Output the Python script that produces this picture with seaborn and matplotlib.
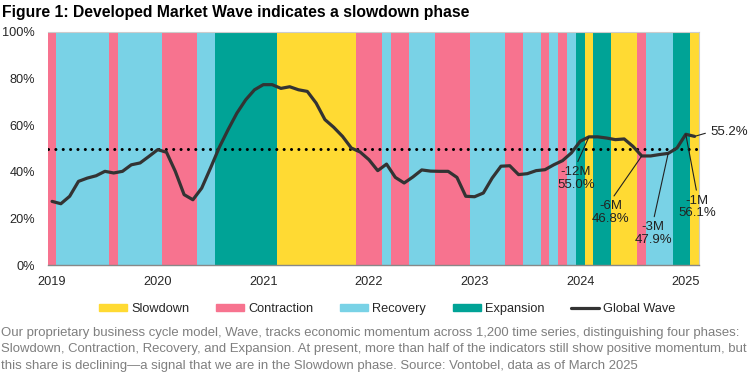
import matplotlib
matplotlib.use("Agg")
import matplotlib.pyplot as plt
from matplotlib.patches import Patch
from matplotlib.lines import Line2D
import seaborn as sns
import numpy as np
import pandas as pd

# monthly data, Jan 2019 .. Feb 2025
wave = [27.3, 26.3, 29.5, 35.9, 37.3, 38.3, 40.2, 39.5, 40.2, 43.0, 43.8, 46.6,
        49.5, 48.4, 40.2, 30.2, 28.0, 33.0, 41.6, 50.5, 58.1, 65.2, 70.9, 75.2,
        77.4, 77.4, 75.8, 76.5, 75.2, 74.5, 69.5, 62.4, 59.1, 55.2, 50.2, 48.5,
        45.2, 40.5, 43.3, 37.6, 35.2, 37.8, 40.8, 40.3, 40.2, 40.2, 37.6, 29.5,
        29.3, 30.9, 37.3, 42.4, 42.6, 38.8, 39.2, 40.5, 40.9, 43.0, 44.8, 48.1,
        53.1, 55.0, 55.0, 54.5, 53.8, 54.1, 50.9, 46.8, 46.8, 47.4, 47.9, 50.2,
        56.1, 55.2]

phase_runs = [("Contraction", 1), ("Recovery", 6), ("Contraction", 1), ("Recovery", 5),
              ("Contraction", 4), ("Recovery", 2), ("Expansion", 7), ("Slowdown", 9),
              ("Contraction", 3), ("Recovery", 1), ("Contraction", 2), ("Recovery", 3),
              ("Contraction", 4), ("Recovery", 4), ("Contraction", 2), ("Recovery", 2),
              ("Contraction", 1), ("Recovery", 1), ("Contraction", 1), ("Recovery", 1),
              ("Expansion", 1), ("Slowdown", 1), ("Expansion", 2), ("Slowdown", 3),
              ("Contraction", 1), ("Recovery", 3), ("Expansion", 2), ("Slowdown", 1)]

years = ["2019", "2020", "2021", "2022", "2023", "2024", "2025"]
callouts = [("-12M", 61), ("-6M", 67), ("-3M", 70), ("-1M", 72)]

colors = {"Slowdown": "#FFDA33", "Contraction": "#F7738F",
          "Recovery": "#79D2E6", "Expansion": "#00A396"}
line_col = "#333333"

phases = [p for p, n in phase_runs for _ in range(n)]
df = pd.DataFrame({"month": np.arange(len(wave)), "wave": wave, "phase": phases})

sns.set_theme(style="white")
plt.rcParams["font.family"] = ["Liberation Sans", "DejaVu Sans"]

fig = plt.figure(figsize=(7.52, 3.75), dpi=100)
ax = fig.add_axes([0.0634, 0.2933, 0.8661, 0.6214])

# phase bands
ax.bar(df["month"], 100, width=1.0, color=df["phase"].map(colors), linewidth=0, zorder=1)

# 50% threshold
ax.axhline(50, color="black", lw=2.2, linestyle=(0, (0.01, 2.4)),
           dash_capstyle="round", zorder=2)

sns.lineplot(data=df, x="month", y="wave", color=line_col, lw=2.3, ax=ax, zorder=3)

ax.set_xlim(-0.5, len(wave) - 0.5)
ax.set_ylim(0, 100)
ax.set_yticks(range(0, 101, 20))
ax.set_yticklabels([f"{v}%" for v in range(0, 101, 20)], fontsize=9.2)
ax.set_xticks([12 * k for k in range(len(years))])
ax.set_xticklabels(years, fontsize=9.2)
ax.tick_params(axis="y", length=0, pad=9)
ax.tick_params(axis="x", length=0, pad=8)
ax.set_xlabel("")
ax.set_ylabel("")
for s in ["top", "right"]:
    ax.spines[s].set_color("#cccccc")
    ax.spines[s].set_linewidth(0.8)
ax.spines["left"].set_visible(False)
ax.spines["bottom"].set_color("#888888")
ax.spines["bottom"].set_linewidth(1.0)

# callouts
text_pos = {"-12M": (59.5, 37.2), "-6M": (63.5, 22.5), "-3M": (68.3, 13.5), "-1M": (73.3, 24.9)}
for lab, i in callouts:
    ax.annotate(f"{lab}\n{wave[i]:.1f}%", xy=(i, wave[i]), xytext=text_pos[lab],
                ha="center", va="center", fontsize=9.5, color="#222222", linespacing=1.05,
                arrowprops=dict(arrowstyle="-", color="#222222", lw=0.8,
                                relpos=(0.5, 1.0), shrinkA=1, shrinkB=0),
                annotation_clip=False, zorder=4)
ax.annotate(f"{wave[-1]:.1f}%", xy=(len(wave) - 1, wave[-1]), xytext=(74.75, 57.1),
            ha="left", va="center", fontsize=9.5, color="#222222",
            arrowprops=dict(arrowstyle="-", color="#222222", lw=0.8,
                            relpos=(0, 0.5), shrinkA=1, shrinkB=1),
            annotation_clip=False, zorder=4)

handles = [Patch(color=colors[k], label=k) for k in ["Slowdown", "Contraction", "Recovery", "Expansion"]]
handles.append(Line2D([], [], color=line_col, lw=2.3, label="Global Wave"))
fig.legend(handles=handles, loc="center", bbox_to_anchor=(0.515, 0.175), ncol=5,
           frameon=False, fontsize=9.2, handlelength=2.2, handleheight=0.5,
           handletextpad=0.3, columnspacing=2.1)

fig.text(0.003, 0.966, "Figure 1: Developed Market Wave indicates a slowdown phase",
         fontsize=11.3, fontweight="bold", ha="left", va="center", color="black")
caption = ("Our proprietary business cycle model, Wave, tracks economic momentum across 1,200 time series, distinguishing four phases:\n"
           "Slowdown, Contraction, Recovery, and Expansion. At present, more than half of the indicators still show positive momentum, but\n"
           "this share is declining\u2014a signal that we are in the Slowdown phase. Source: Vontobel, data as of March 2025")
fig.text(0.001, 0.128, caption, fontsize=9.45, color="#7f7f7f", ha="left", va="top",
         linespacing=1.48)

fig.savefig("out.png", dpi=100)
